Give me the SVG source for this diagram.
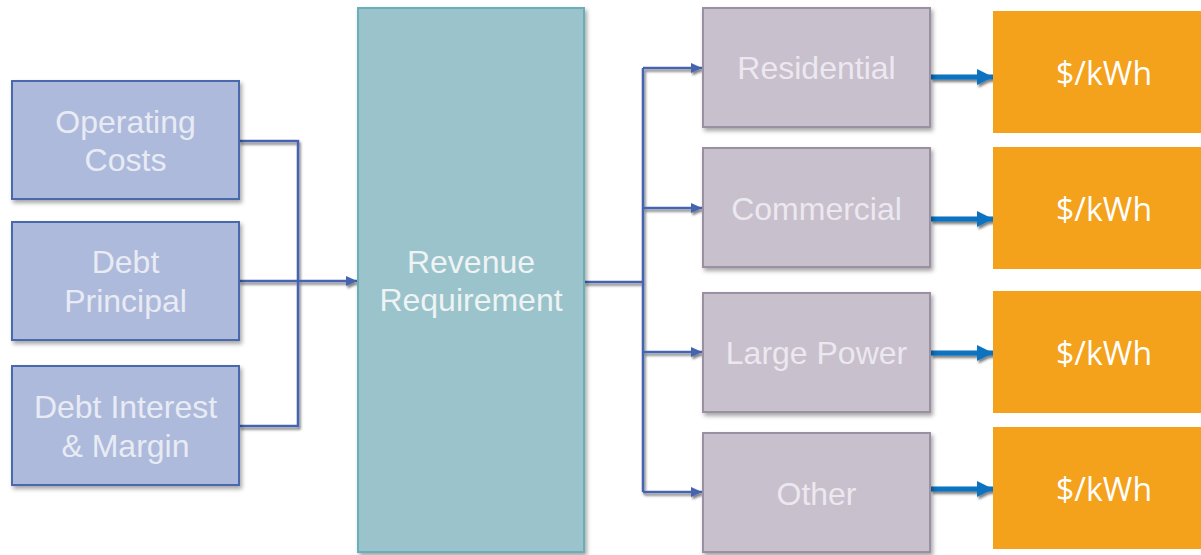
<svg xmlns="http://www.w3.org/2000/svg" width="1201" height="555" viewBox="0 0 1201 555">
<defs>
<filter id="sh" x="-10%" y="-10%" width="130%" height="130%">
<feDropShadow dx="2" dy="3" stdDeviation="2" flood-color="#000" flood-opacity="0.35"/>
</filter>
<filter id="lsh" x="0" y="0" width="1201" height="555" filterUnits="userSpaceOnUse">
<feDropShadow dx="1.5" dy="2.5" stdDeviation="1.2" flood-color="#000" flood-opacity="0.5"/>
</filter>
<marker id="ah" viewBox="0 0 10 10" refX="10" refY="5" markerWidth="11" markerHeight="10" markerUnits="userSpaceOnUse" orient="auto" preserveAspectRatio="none">
<path d="M0,0 L10,5 L0,10 z" fill="#4463ae"/>
</marker>
<marker id="ab" viewBox="0 0 10 10" refX="10" refY="5" markerWidth="16" markerHeight="16" markerUnits="userSpaceOnUse" orient="auto" preserveAspectRatio="none">
<path d="M0,0 L10,5 L0,10 z" fill="#0a72c0"/>
</marker>
</defs>
<style>
.in rect{fill:#aebadc;stroke:#4a68ae;stroke-width:2}
.rr rect{fill:#9ac3cb;stroke:#6aaeba;stroke-width:2}
.cl rect{fill:#c8c0cc;stroke:#9a90a2;stroke-width:2}
.pr rect{fill:#f4a11c}
text{font-family:"Liberation Sans",Arial,sans-serif;font-size:32px;text-anchor:middle}
.in text{fill:#e8ebf4}
.rr text{fill:#eef3f4}
.cl text{fill:#ece8f0}
.pr text{fill:#ffffff;font-family:"Open Sans","Noto Sans",sans-serif;font-size:32px}
.cn{fill:none;stroke:#4463ae;stroke-width:2.5}
.bl{fill:none;stroke:#0a72c0;stroke-width:5}
</style>
<g id="connectors" filter="url(#lsh)">
<polyline class="cn" points="239,141 298,141 298,426 239,426"/>
<line class="cn" x1="239" y1="281" x2="298" y2="281"/>
<line class="cn" x1="298" y1="281" x2="357" y2="281" stroke-width="4" marker-end="url(#ah)"/>
<line class="cn" x1="584" y1="282" x2="643" y2="282" stroke-width="4"/>
<polyline class="cn" points="643,68 643,492"/>
<line class="cn" x1="643" y1="68" x2="702" y2="68" marker-end="url(#ah)"/>
<line class="cn" x1="643" y1="208" x2="702" y2="208" marker-end="url(#ah)"/>
<line class="cn" x1="643" y1="352" x2="702" y2="352" marker-end="url(#ah)"/>
<line class="cn" x1="643" y1="492" x2="702" y2="492" marker-end="url(#ah)"/>
<line class="bl" x1="931" y1="77" x2="993" y2="77" marker-end="url(#ab)"/>
<line class="bl" x1="931" y1="219" x2="993" y2="219" marker-end="url(#ab)"/>
<line class="bl" x1="931" y1="353" x2="993" y2="353" marker-end="url(#ab)"/>
<line class="bl" x1="931" y1="489" x2="993" y2="489" marker-end="url(#ab)"/>
</g>
<g id="operating-costs" class="in">
<rect x="12" y="81" width="227" height="118" filter="url(#sh)"/>
<text x="125.5" y="133">Operating</text>
<text x="125.5" y="171">Costs</text>
</g>
<g id="debt-principal" class="in">
<rect x="12" y="222" width="227" height="118" filter="url(#sh)"/>
<text x="125.5" y="273">Debt</text>
<text x="125.5" y="312">Principal</text>
</g>
<g id="debt-interest" class="in">
<rect x="12" y="366" width="227" height="119" filter="url(#sh)"/>
<text x="125.5" y="418">Debt Interest</text>
<text x="125.5" y="457">&amp; Margin</text>
</g>
<g id="revenue-requirement" class="rr">
<rect x="358" y="8" width="226" height="544" filter="url(#sh)"/>
<text x="471" y="273">Revenue</text>
<text x="471" y="311">Requirement</text>
</g>
<g id="residential" class="cl">
<rect x="703" y="8" width="227" height="119" filter="url(#sh)"/>
<text x="816.5" y="79">Residential</text>
</g>
<g id="commercial" class="cl">
<rect x="703" y="148" width="227" height="119" filter="url(#sh)"/>
<text x="816.5" y="220">Commercial</text>
</g>
<g id="large-power" class="cl">
<rect x="703" y="293" width="227" height="119" filter="url(#sh)"/>
<text x="816.5" y="364">Large Power</text>
</g>
<g id="other" class="cl">
<rect x="703" y="433" width="227" height="119" filter="url(#sh)"/>
<text x="816.5" y="505">Other</text>
</g>
<g id="price-residential" class="pr">
<rect x="993" y="11" width="210" height="122"/>
<text x="1104" y="85">$/kWh</text>
</g>
<g id="price-commercial" class="pr">
<rect x="993" y="147" width="210" height="122"/>
<text x="1104" y="221">$/kWh</text>
</g>
<g id="price-large-power" class="pr">
<rect x="993" y="291" width="210" height="122"/>
<text x="1104" y="365">$/kWh</text>
</g>
<g id="price-other" class="pr">
<rect x="993" y="427" width="210" height="122"/>
<text x="1104" y="501">$/kWh</text>
</g>
</svg>
